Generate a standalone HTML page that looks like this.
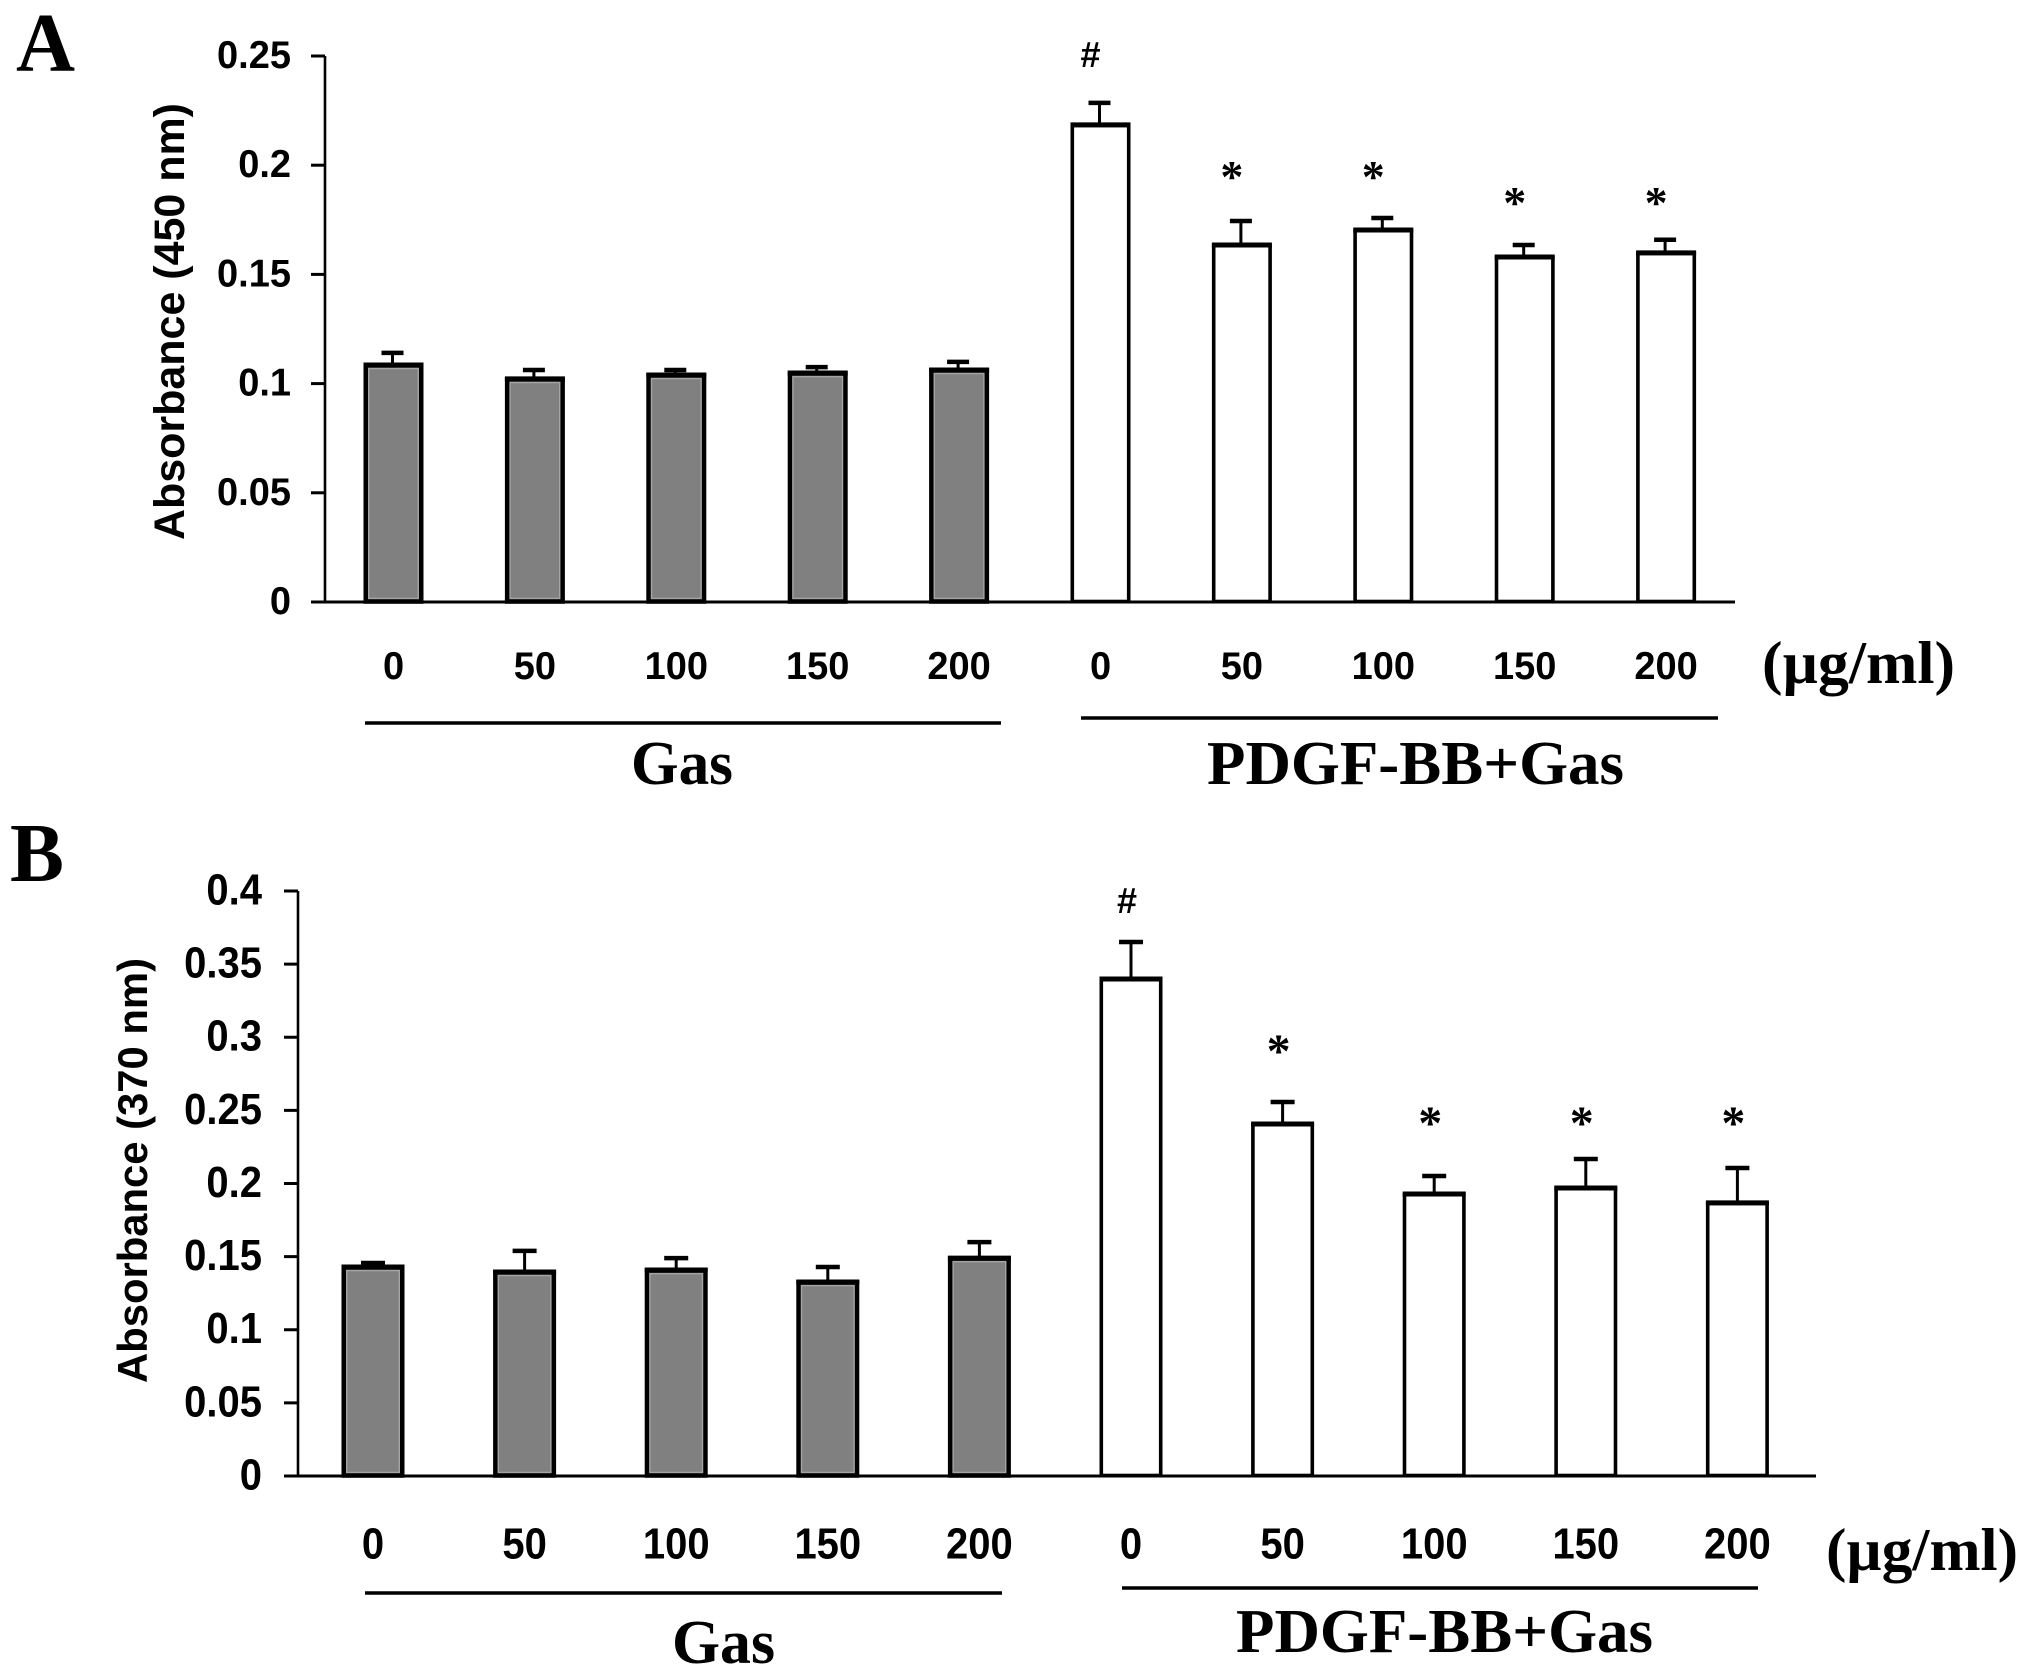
<!DOCTYPE html>
<html lang="en">
<head>
<meta charset="utf-8">
<title>Absorbance bar charts</title>
<style>
html,body{margin:0;padding:0;background:#fff;}
svg{display:block;}
text{fill:#000;}
</style>
</head>
<body>
<svg id="fig" xmlns="http://www.w3.org/2000/svg" width="2031" height="1674" viewBox="0 0 2031 1674"></svg>
<script>
// Panel A data
const doseLabels = ['0','50','100','150','200'];
const tickLabelsA = ['0','0.05','0.1','0.15','0.2','0.25'];
const gasMeansA = [0.109,0.1026,0.1044,0.1053,0.1067];
const gasErrorsA = [0.0055,0.0041,0.0023,0.0027,0.0037];
const pdgfMeansA = [0.2189,0.1639,0.1708,0.1584,0.1603];
const pdgfErrorsA = [0.0101,0.011,0.0055,0.0055,0.006];
const pdgfMarksA = ['#','*','*','*','*'];
const pdgfMarkLevelsA = [0.245,0.1932,0.1932,0.1813,0.1813];

// Panel B data
const tickLabelsB = ['0','0.05','0.1','0.15','0.2','0.25','0.3','0.35','0.4'];
const gasMeansB = [0.1436,0.1402,0.1415,0.1333,0.1497];
const gasErrorsB = [0.0027,0.0144,0.0082,0.0103,0.0109];
const pdgfMeansB = [0.3405,0.2414,0.1935,0.1976,0.1874];
const pdgfErrorsB = [0.0253,0.015,0.0123,0.0198,0.0239];
const pdgfMarksB = ['#','*','*','*','*'];
const pdgfMarkLevelsB = [0.385,0.2879,0.2386,0.2386,0.2386];

const NS = 'http://www.w3.org/2000/svg';
const svg = document.getElementById('fig');

function make(tag, name, attrs, parent) {
  const el = document.createElementNS(NS, tag);
  
  
  for (const k in attrs) el.setAttribute(k, attrs[k]);
  (parent || svg).appendChild(el);
  return el;
}
function line(name, x1, y1, x2, y2, w, parent, color) {
  return make('line', name, {x1, y1, x2, y2, stroke: color || '#000', 'stroke-width': w}, parent);
}
function label(name, str, x, y, o, parent) {
  const sans = '"Liberation Sans", sans-serif';
  const a = {
    'font-family': o.serif ? '"Liberation Serif", serif' : sans,
    'font-size': o.size,
    'font-weight': o.weight || 'bold',
    'text-anchor': o.anchor || 'start'
  };
  if (o.length) { a.textLength = o.length; a.lengthAdjust = 'spacingAndGlyphs'; }
  const sy = o.sy || 1;
  if (o.rotate) a.transform = 'translate(' + x + ' ' + y + ') rotate(-90)';
  else a.transform = 'translate(' + x + ' ' + y + ') scale(1 ' + sy + ')';
  const t = make('text', name, a, parent);
  t.textContent = str;
  return t;
}

function drawPanel(c) {
  const g = make('g', c.id, {});
  const y = v => c.y0 - v * c.pxPerUnit;
  const cx = i => c.firstCenter + c.step * i;

  // y ticks
  c.ticks.forEach(t => {
    const v = parseFloat(t), py = y(v);
    line('y-tick-' + t, c.tickLeft, py, c.axisX, py, 3, g);
    label('y-tick-label-' + t, t, c.tickLabelRight, py - 2 + 0.358 * c.tickSize * c.tickScale,
      {size: c.tickSize, anchor: 'end', sy: c.tickScale}, g);
  });

  // bars
  function bars(means, errs, series, start, fill) {
    const gray = fill !== '#fff';
    means.forEach((m, k) => {
      const i = start + k, mid = cx(i), top = y(m), w = c.barWidth;
      const eTop = y(m + errs[k]);
      const ex = mid + c.errOffset;
      line(series + '-error-stem-' + doseLabels[k], ex, eTop, ex, top, 3, g);
      line(series + '-error-cap-' + doseLabels[k], ex - c.capWidth / 2, eTop + 1, ex + c.capWidth / 2, eTop + 1, 4.5, g);
      const sw = gray ? 4.6 : 3.6;
      make('rect', series + '-bar-' + doseLabels[k], {
        x: mid - w / 2 + sw / 2, y: top + 1.5, width: w - sw, height: c.y0 - top - 2,
        fill: fill, stroke: '#000', 'stroke-width': sw
      }, g);
      if (gray) {
        make('rect', series + '-bar-highlight-' + doseLabels[k], {
          x: mid - w / 2 + 5.2, y: top + 4.6, width: w - 10.4, height: c.y0 - top - 8.2,
          fill: 'none', stroke: '#a4a4a4', 'stroke-width': 1.4
        }, g);
      }
      line(series + '-bar-top-' + doseLabels[k], mid - w / 2, top + 1, mid + w / 2, top + 1, 5, g);
    });
  }
  bars(c.gasMeans, c.gasErrors, 'gas', 0, '#808080');
  bars(c.pdgfMeans, c.pdgfErrors, 'pdgf', 5, '#fff');

  // significance marks
  c.marks.forEach((s, k) => {
    const mx = cx(5 + k) + c.markOffset, my = y(c.markLevels[k]);
    if (s === '#') {
      label('significance-hash', s, mx, my, {size: c.hashSize, anchor: 'middle', weight: 'bold'}, g);
    } else {
      label('significance-star-' + doseLabels[k], s, mx, my + c.starDrop, {size: c.starSize, anchor: 'middle', serif: true}, g);
    }
  });

  // axes
  line('y-axis', c.axisX, y(c.ticks.map(parseFloat).slice(-1)[0]), c.axisX, c.y0 + 1, 2.6, g);
  line('x-axis', c.tickLeft, c.y0, c.axisEnd, c.y0, 3, g);

  // x labels
  [0, 1].forEach(s => doseLabels.forEach((d, k) => {
    label((s ? 'pdgf' : 'gas') + '-dose-label-' + d, d, cx(s * 5 + k), c.doseY + 0.358 * c.tickSize * c.tickScale,
      {size: c.tickSize, anchor: 'middle', sy: c.tickScale}, g);
  }));
  label('unit-label', '(\u00b5g/ml)', c.unitX, c.unitY, {size: 60, serif: true, length: c.unitLen}, g);

  // group brackets
  line('gas-group-line', c.line1[0], c.line1[2], c.line1[1], c.line1[2], 3.4, g);
  line('pdgf-group-line', c.line2[0], c.line2[2], c.line2[1], c.line2[2], 3.4, g);
  label('gas-group-label', 'Gas', c.gas[0], c.gas[1], {size: 62, serif: true, length: c.gas[2]}, g);
  label('pdgf-group-label', 'PDGF-BB+Gas', c.pdgf[0], c.pdgf[1], {size: 62, serif: true, length: c.pdgf[2]}, g);

  // y title
  label('y-axis-title', c.title, c.titleX, c.titleY, {size: c.titleSize, rotate: true, length: c.titleLen}, g);

  // panel letter
  label('panel-letter', c.letter, c.letterX, c.letterY, {size: c.letterSize, serif: true, length: c.letterLen}, g);
}

drawPanel({
  id: 'panel-a', letter: 'A', letterX: 16, letterY: 71, letterSize: 84, letterLen: 59,
  y0: 602, pxPerUnit: 2184, axisX: 325, tickLeft: 311, axisEnd: 1735, tickLabelRight: 291,
  tickSize: 38, tickScale: 1.03, ticks: tickLabelsA,
  firstCenter: 393.5, step: 141.4, barWidth: 60, capWidth: 22, errOffset: -1,
  gasMeans: gasMeansA, gasErrors: gasErrorsA, pdgfMeans: pdgfMeansA, pdgfErrors: pdgfErrorsA,
  marks: pdgfMarksA, markLevels: pdgfMarkLevelsA, markOffset: -10, hashSize: 36, starSize: 46, starDrop: 12,
  doseY: 665, unitX: 1762, unitY: 683, unitLen: 193,
  line1: [365, 1001, 723], line2: [1081, 1718, 718],
  gas: [631, 784, 102], pdgf: [1207, 784, 417],
  title: 'Absorbance (450 nm)', titleX: 184, titleY: 540, titleSize: 43, titleLen: 437
});

drawPanel({
  id: 'panel-b', letter: 'B', letterX: 10, letterY: 881, letterSize: 84, letterLen: 54,
  y0: 1476, pxPerUnit: 1462.5, axisX: 298, tickLeft: 284, axisEnd: 1816, tickLabelRight: 262,
  tickSize: 40, tickScale: 1.08, ticks: tickLabelsB,
  firstCenter: 373, step: 151.6, barWidth: 63, capWidth: 24, errOffset: 0,
  gasMeans: gasMeansB, gasErrors: gasErrorsB, pdgfMeans: pdgfMeansB, pdgfErrors: pdgfErrorsB,
  marks: pdgfMarksB, markLevels: pdgfMarkLevelsB, markOffset: -4, hashSize: 36, starSize: 48, starDrop: 12,
  doseY: 1543, unitX: 1826, unitY: 1570, unitLen: 192,
  line1: [365, 1002, 1593], line2: [1122, 1758, 1588],
  gas: [672, 1663, 103], pdgf: [1236, 1652, 417],
  title: 'Absorbance (370 nm)', titleX: 147, titleY: 1383, titleSize: 42, titleLen: 425
});
</script>
</body>
</html>
